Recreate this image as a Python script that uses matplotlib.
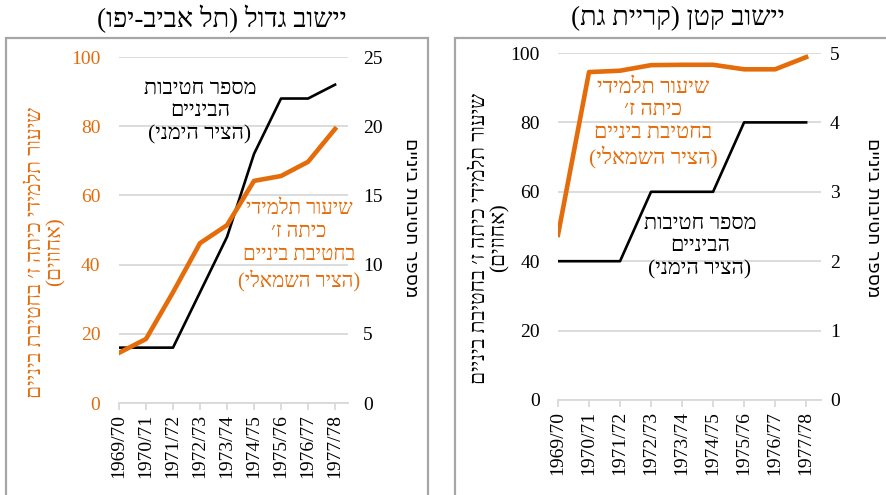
import matplotlib
matplotlib.use("Agg")
import matplotlib.pyplot as plt
from matplotlib.patches import Rectangle

# data
years = ["1969/70", "1970/71", "1971/72", "1972/73", "1973/74",
         "1974/75", "1975/76", "1976/77", "1977/78"]
# large town (Tel Aviv-Yafo)
big_pct = [14.5, 18.5, 32, 46.2, 51.4, 64.2, 65.6, 69.7, 79.2]
big_schools = [4, 4, 4, 8, 12, 18, 22, 22, 23]
# small town (Kiryat Gat)
small_pct = [47.6, 94.5, 94.9, 96.5, 96.6, 96.6, 95.3, 95.3, 98.8]
small_schools = [2, 2, 2, 3, 3, 3, 4, 4, 4]

W, H = 886, 495
ORANGE = "#E46C0A"
SERIF = ["Liberation Serif", "DejaVu Sans"]
SANS = ["DejaVu Sans"]


def rtl(s):
    # matplotlib has no bidi support: reverse each line, mirror the brackets
    swap = str.maketrans("()", ")(")
    return "\n".join(line[::-1].translate(swap) for line in s.split("\n"))


def px_axes(fig, x0, y0, x1, y1):
    return fig.add_axes([x0 / W, 1 - y1 / H, (x1 - x0) / W, (y1 - y0) / H])


def panel(fig, box, pct, schools, right_max, left_color, title, title_x,
          frame, ylab_x, rlab_x, ylab_y, lpad, rpad):
    # ax2 (right scale) sits underneath and carries the gridlines
    ax2 = px_axes(fig, *box)
    ax2.set_xlim(0, 8.48)
    ax2.set_ylim(0, right_max)
    ax2.set_yticks(range(0, right_max + 1, right_max // 5))
    ax2.yaxis.tick_right()
    ax2.grid(axis="y", color="#d9d9d9", lw=1.3)
    ax2.set_axisbelow(True)
    for s in ax2.spines.values():
        s.set_visible(False)
    ax2.set_xticks([])
    ax2.tick_params(axis="y", length=0, pad=rpad, labelsize=14)
    for lab in ax2.get_yticklabels():
        lab.set_family(SERIF)

    ax = px_axes(fig, *box)
    ax.patch.set_visible(False)
    x = range(len(years))
    ax.set_xlim(0, 8.48)
    ax.set_ylim(0, 100)
    ax.set_yticks(range(0, 101, 20))
    for s in ["top", "left", "right"]:
        ax.spines[s].set_visible(False)
    ax.spines["bottom"].set_color("#d9d9d9")
    ax.spines["bottom"].set_linewidth(1.3)
    ax.set_xticks(list(x))
    ax.set_xticklabels(years, rotation=90, fontsize=14, family=SERIF)
    ax.tick_params(axis="x", color="#d9d9d9", length=5, width=1.3, pad=3)
    ax.tick_params(axis="y", length=0, pad=lpad, labelsize=14,
                   labelcolor=left_color)
    for lab in ax.get_yticklabels():
        lab.set_family(SERIF)

    ax2.plot(x, schools, color="black", lw=1.9, zorder=3)
    ax.plot(x, pct, color=ORANGE, lw=3.3, zorder=4)

    fig.text(title_x / W, 1 - 19 / H,
             rtl("יישוב גדול (תל אביב-יפו)") if title == "big"
             else rtl("יישוב קטן (קריית גת)"),
             ha="center", va="center", fontsize=19.5, family=SERIF)
    fig.patches.append(Rectangle((frame[0] / W, 1 - frame[3] / H),
                                 (frame[2] - frame[0]) / W,
                                 (frame[3] - frame[1]) / H,
                                 transform=fig.transFigure, fill=False,
                                 edgecolor="#a6a6a6", lw=1.6))
    fig.text(ylab_x / W, 1 - ylab_y / H,
             rtl("שיעור תלמידי כיתה ז׳ בחטיבת ביניים\n(אחוזים)"),
             rotation=90, ha="center", va="center", fontsize=15,
             color=left_color, family=SERIF, linespacing=1.05)
    fig.text(rlab_x / W, 1 - 218 / H, rtl("מספר חטיבות ביניים"),
             rotation=270, ha="center", va="center", fontsize=13.5,
             family=SANS)
    return ax


fig = plt.figure(figsize=(W / 100, H / 100), dpi=100)

panel(fig, (119, 57, 348, 403), big_pct, big_schools, 25, ORANGE, "big",
      222, (6, 38, 428, 500), 46, 412, 252, 13.5, 11)
panel(fig, (558, 53, 821, 400), small_pct, small_schools, 5, "black",
      "small", 678, (455, 38, 895, 500), 490, 873, 238, 13, 6.5)

# in-plot labels
fig.text(200 / W, 1 - 112 / H, rtl("מספר חטיבות\nהביניים\n(הציר הימני)"),
         ha="center", va="center", fontsize=15.5, family=SERIF,
         linespacing=1.25)
fig.text(299 / W, 1 - 246 / H,
         rtl("שיעור תלמידי\nכיתה ז׳\nבחטיבת ביניים\n(הציר השמאלי)"),
         ha="center", va="center", fontsize=14.8, family=SERIF, color=ORANGE,
         linespacing=1.3)
fig.text(653 / W, 1 - 124 / H,
         rtl("שיעור תלמידי\nכיתה ז׳\nבחטיבת ביניים\n(הציר השמאלי)"),
         ha="center", va="center", fontsize=15.5, family=SERIF, color=ORANGE,
         linespacing=1.25)
fig.text(700 / W, 1 - 247 / H, rtl("מספר חטיבות\nהביניים\n(הציר הימני)"),
         ha="center", va="center", fontsize=15.5, family=SERIF,
         linespacing=1.25)

fig.savefig("out.png", dpi=100)
